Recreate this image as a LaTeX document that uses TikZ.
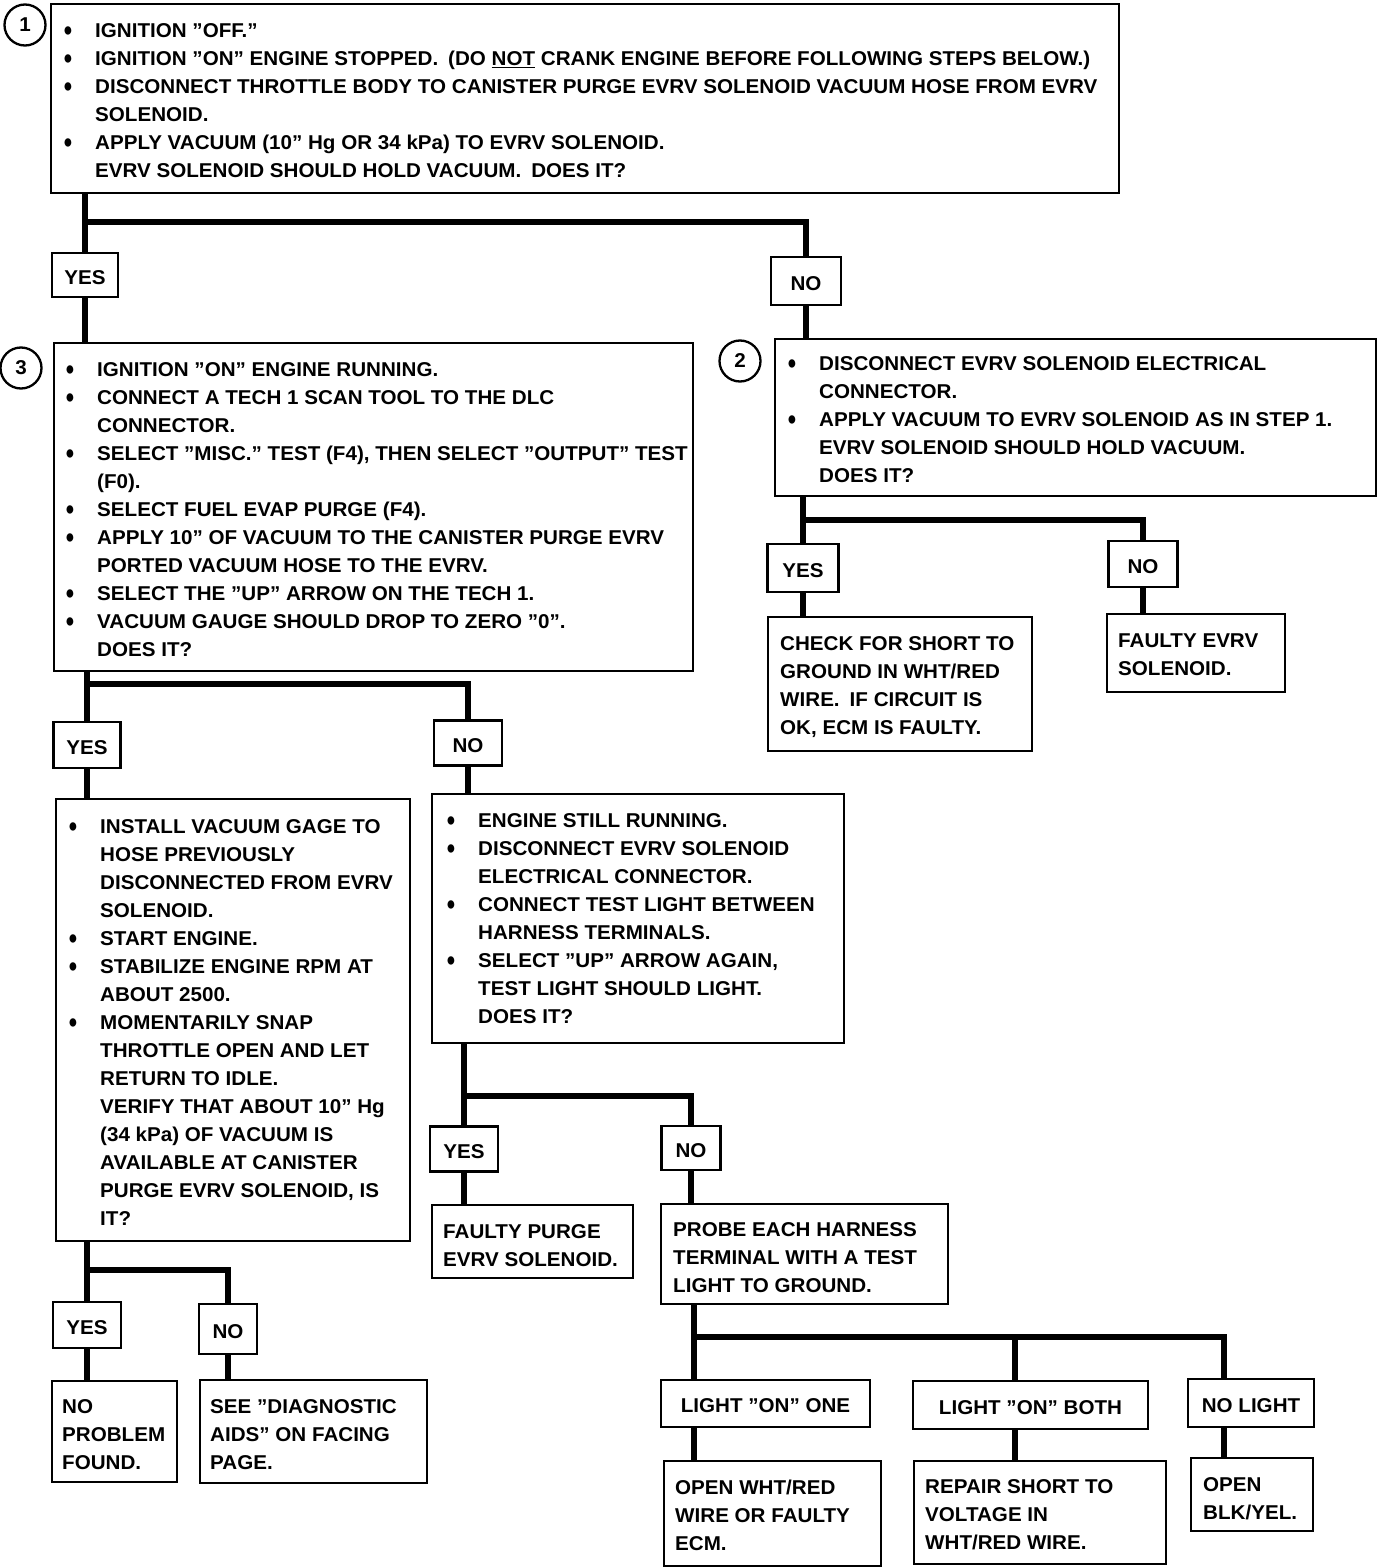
\documentclass[tikz,border=0pt]{standalone}
\usepackage{fontspec}
\setmainfont{Liberation Sans}[FakeStretch=1.03]
\newcommand\gm{\fontsize{20}{28}\selectfont\bfseries}
\newcommand\bl{\llap{\raisebox{-3.2pt}{\scalebox{1.15}[1.45]{\textbullet}}\hspace{23pt}}}
\newcommand\fs{\rule{0pt}{20pt}}
\tikzset{
  box/.style={draw, line width=2.3pt, rectangle, inner sep=0pt, anchor=north west},
  lbl/.style={draw, line width=2.3pt, rectangle, inner sep=0pt, text height=18.5pt, text depth=0pt, font=\gm},
  txt/.style={anchor=north west, inner sep=0pt, align=left, font=\gm},
  conn/.style={line width=6.5pt},
  numc/.style={draw, circle, line width=2.3pt, minimum size=41pt, inner sep=0pt, font=\gm}
}
\begin{document}
\begin{tikzpicture}[x=1pt,y=-1pt]
\useasboundingbox[fill=white] (0,0) rectangle (1392,1568);

% ---------- boxes ----------
\node[box, minimum width=1068pt, minimum height=189pt] (b1) at (50,3) {};
\node[box, minimum width=639pt, minimum height=328pt] (b3) at (53,342) {};
\node[box, minimum width=601pt, minimum height=157pt] (b2) at (774,338) {};
\node[box, minimum width=264pt, minimum height=134pt] (check) at (767,616) {};
\node[box, minimum width=178pt, minimum height=78pt] (fevrv) at (1106,613) {};
\node[box, minimum width=354pt, minimum height=442pt] (b4) at (55,798) {};
\node[box, minimum width=412pt, minimum height=249pt] (b5) at (431,793) {};
\node[box, minimum width=201pt, minimum height=73pt] (fpurge) at (431,1204) {};
\node[box, minimum width=287pt, minimum height=100pt] (probe) at (660,1203) {};
\node[box, minimum width=217pt, minimum height=105pt] (openwht) at (663,1460) {};
\node[box, minimum width=252pt, minimum height=103pt] (repair) at (913,1460) {};
\node[box, minimum width=122pt, minimum height=73pt] (openblk) at (1190,1457) {};
\node[box, minimum width=125pt, minimum height=101pt] (noprob) at (51,1380) {};
\node[box, minimum width=227pt, minimum height=103pt] (seediag) at (199,1379) {};

% ---------- step numbers ----------
\node[numc] (c1) at (25,25) {1};
\node[numc] (c3) at (21,368) {3};
\node[numc] (c2) at (740,361) {2};

% ---------- texts ----------
\node[txt] (t1) at (95,17) {\fs\bl IGNITION "OFF."\\
\bl IGNITION "ON" ENGINE STOPPED.\hspace{10pt}(DO \underline{NOT} CRANK ENGINE BEFORE FOLLOWING STEPS BELOW.)\\
\bl DISCONNECT THROTTLE BODY TO CANISTER PURGE EVRV SOLENOID VACUUM HOSE FROM EVRV\\
SOLENOID.\\
\bl APPLY VACUUM (10" Hg OR 34 kPa) TO EVRV SOLENOID.\\
EVRV SOLENOID SHOULD HOLD VACUUM.\hspace{10pt}DOES IT?};

\node[txt] (t3) at (97,356) {\fs\bl IGNITION "ON" ENGINE RUNNING.\\
\bl CONNECT A TECH 1 SCAN TOOL TO THE DLC\\
CONNECTOR.\\
\bl SELECT "MISC." TEST (F4), THEN SELECT "OUTPUT" TEST\\
(F0).\\
\bl SELECT FUEL EVAP PURGE (F4).\\
\bl APPLY 10" OF VACUUM TO THE CANISTER PURGE EVRV\\
PORTED VACUUM HOSE TO THE EVRV.\\
\bl SELECT THE "UP" ARROW ON THE TECH 1.\\
\bl VACUUM GAUGE SHOULD DROP TO ZERO "0".\\
DOES IT?};

\node[txt] (t2) at (819,350) {\fs\bl DISCONNECT EVRV SOLENOID ELECTRICAL\\
CONNECTOR.\\
\bl APPLY VACUUM TO EVRV SOLENOID AS IN STEP 1.\\
EVRV SOLENOID SHOULD HOLD VACUUM.\\
DOES IT?};

\node[txt] (tcheck) at (780,630) {\fs CHECK FOR SHORT TO\\
GROUND IN WHT/RED\\
WIRE.\hspace{10pt}IF CIRCUIT IS\\
OK, ECM IS FAULTY.};

\node[txt] (tfevrv) at (1118,627) {\fs FAULTY EVRV\\
SOLENOID.};

\node[txt] (t4) at (100,813) {\fs\bl INSTALL VACUUM GAGE TO\\
HOSE PREVIOUSLY\\
DISCONNECTED FROM EVRV\\
SOLENOID.\\
\bl START ENGINE.\\
\bl STABILIZE ENGINE RPM AT\\
ABOUT 2500.\\
\bl MOMENTARILY SNAP\\
THROTTLE OPEN AND LET\\
RETURN TO IDLE.\\
VERIFY THAT ABOUT 10" Hg\\
(34 kPa) OF VACUUM IS\\
AVAILABLE AT CANISTER\\
PURGE EVRV SOLENOID, IS\\
IT?};

\node[txt] (t5) at (478,807) {\fs\bl ENGINE STILL RUNNING.\\
\bl DISCONNECT EVRV SOLENOID\\
ELECTRICAL CONNECTOR.\\
\bl CONNECT TEST LIGHT BETWEEN\\
HARNESS TERMINALS.\\
\bl SELECT "UP" ARROW AGAIN,\\
TEST LIGHT SHOULD LIGHT.\\
DOES IT?};

\node[txt] (tfpurge) at (443,1218) {\fs FAULTY PURGE\\
EVRV SOLENOID.};

\node[txt] (tprobe) at (673,1216) {\fs PROBE EACH HARNESS\\
TERMINAL WITH A TEST\\
LIGHT TO GROUND.};

\node[txt] (topenwht) at (675,1474) {\fs OPEN WHT/RED\\
WIRE OR FAULTY\\
ECM.};

\node[txt] (trepair) at (925,1473) {\fs REPAIR SHORT TO\\
VOLTAGE IN\\
WHT/RED WIRE.};

\node[txt] (topenblk) at (1203,1471) {\fs OPEN\\
BLK/YEL.};

\node[txt] (tnoprob) at (62,1393) {\fs NO\\
PROBLEM\\
FOUND.};

\node[txt] (tseediag) at (210,1393) {\fs SEE "DIAGNOSTIC\\
AIDS" ON FACING\\
PAGE.};

% ---------- YES / NO labels ----------
\node[lbl, minimum width=66pt, minimum height=44pt] (y1) at (85,275) {YES};
\node[lbl, minimum width=70pt, minimum height=48pt] (n1) at (806,281) {NO};
\node[lbl, minimum width=71pt, minimum height=48pt] (y2) at (803,568) {YES};
\node[lbl, minimum width=69pt, minimum height=46pt] (n2) at (1143,564) {NO};
\node[lbl, minimum width=67pt, minimum height=46pt] (y3) at (87,745) {YES};
\node[lbl, minimum width=68pt, minimum height=45pt] (n3) at (468,743) {NO};
\node[lbl, minimum width=68pt, minimum height=45pt] (y5) at (464,1149) {YES};
\node[lbl, minimum width=59pt, minimum height=44pt] (n5) at (691,1148) {NO};
\node[lbl, minimum width=68pt, minimum height=46pt] (y4) at (87,1325) {YES};
\node[lbl, minimum width=58pt, minimum height=50pt] (n4) at (228,1329) {NO};
\node[lbl, minimum width=209pt, minimum height=47pt] (one) at (765.5,1403.5) {LIGHT "ON" ONE};
\node[lbl, minimum width=235pt, minimum height=48pt] (both) at (1030.5,1405) {LIGHT "ON" BOTH};
\node[lbl, minimum width=126pt, minimum height=48pt] (nolight) at (1251,1403) {NO LIGHT};

% ---------- connectors ----------
\coordinate (j1) at (85,222);
\draw[conn] (b1.south -| y1) -- (y1.north);
\draw[conn] (j1) -| (n1.north);
\draw[conn] (y1.south) -- (y1.south |- b3.north);
\draw[conn] (n1.south) -- (n1.south |- b2.north);

\coordinate (j2) at (803,520);
\draw[conn] (b2.south -| y2) -- (y2.north);
\draw[conn] (j2) -| (n2.north);
\draw[conn] (y2.south) -- (y2.south |- check.north);
\draw[conn] (n2.south) -- (n2.south |- fevrv.north);

\coordinate (j3) at (87,684);
\draw[conn] (b3.south -| y3) -- (y3.north);
\draw[conn] (j3) -| (n3.north);
\draw[conn] (y3.south) -- (y3.south |- b4.north);
\draw[conn] (n3.south) -- (n3.south |- b5.north);

\coordinate (j5) at (464,1096);
\draw[conn] (b5.south -| y5) -- (y5.north);
\draw[conn] (j5) -| (n5.north);
\draw[conn] (y5.south) -- (y5.south |- fpurge.north);
\draw[conn] (n5.south) -- (n5.south |- probe.north);

\coordinate (j4) at (87,1270);
\draw[conn] (b4.south -| y4) -- (y4.north);
\draw[conn] (j4) -| (n4.north);
\draw[conn] (y4.south) -- (y4.south |- noprob.north);
\draw[conn] (n4.south) -- (n4.south |- seediag.north);

\coordinate (j6) at (694,1337);
\coordinate (j6b) at (1015,1337);
\coordinate (j6c) at (1224,1337);
\draw[conn] (probe.south -| j6) -- (one.north -| j6);
\draw[conn] (j6) -- (j6c) -- (nolight.north -| j6c);
\draw[conn] (j6b) -- (both.north -| j6b);
\draw[conn] (one.south -| j6) -- (openwht.north -| j6);
\draw[conn] (both.south -| j6b) -- (repair.north -| j6b);
\draw[conn] (nolight.south -| j6c) -- (openblk.north -| j6c);
\end{tikzpicture}
\end{document}
